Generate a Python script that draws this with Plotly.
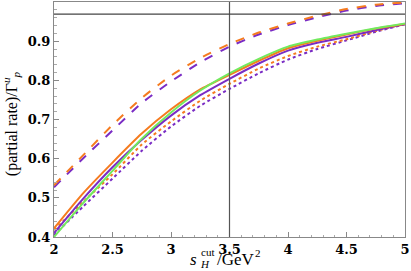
import plotly.graph_objects as go

x_vals = [2.0, 2.25, 2.5, 2.75, 3.0, 3.25, 3.5, 3.75, 4.0, 4.25, 4.5, 4.75, 5.0]

dashed_orange = [0.532, 0.609, 0.686, 0.755, 0.812, 0.857, 0.893, 0.922, 0.945, 0.965, 0.982, 0.993, 0.999]
dashed_purple = [0.527, 0.601, 0.672, 0.742, 0.797, 0.846, 0.886, 0.917, 0.941, 0.961, 0.978, 0.990, 0.997]
solid_orange = [0.422, 0.512, 0.590, 0.664, 0.726, 0.777, 0.814, 0.850, 0.882, 0.901, 0.917, 0.932, 0.944]
solid_purple = [0.410, 0.498, 0.578, 0.648, 0.710, 0.762, 0.804, 0.843, 0.876, 0.896, 0.911, 0.928, 0.943]
solid_green = [0.400, 0.487, 0.569, 0.651, 0.718, 0.774, 0.818, 0.855, 0.886, 0.904, 0.919, 0.933, 0.945]
dotted_orange = [0.418, 0.490, 0.560, 0.636, 0.695, 0.748, 0.791, 0.830, 0.862, 0.886, 0.905, 0.926, 0.944]
dotted_purple = [0.405, 0.478, 0.549, 0.620, 0.682, 0.735, 0.778, 0.818, 0.853, 0.880, 0.902, 0.924, 0.943]

x_ticks = [2, 2.5, 3, 3.5, 4, 4.5, 5]
x_tick_labels = ["2", "2.5", "3", "3.5", "4", "4.5", "5"]
y_ticks = [0.4, 0.5, 0.6, 0.7, 0.8, 0.9]
y_tick_labels = ["0.4", "0.5", "0.6", "0.7", "0.8", "0.9"]

vline_x = 3.5
hline_y = 0.969

ORANGE = "#f57b1f"
PURPLE = "#7a2cc4"
GREEN = "#72ea5e"

fig = go.Figure()

def add(y, color, dash):
    fig.add_trace(go.Scatter(x=x_vals, y=y, mode="lines",
                             line=dict(color=color, width=2, dash=dash, shape="spline", smoothing=0.6),
                             showlegend=False, hoverinfo="skip"))

add(dotted_purple, PURPLE, "dot")
add(dotted_orange, ORANGE, "dot")
add(dashed_purple, PURPLE, "dash")
add(dashed_orange, ORANGE, "dash")
add(solid_purple, PURPLE, "solid")
add(solid_orange, ORANGE, "solid")
add(solid_green, GREEN, "solid")

fig.add_shape(type="line", xref="x", yref="paper", x0=vline_x, x1=vline_x, y0=0, y1=1,
              line=dict(color="#555555", width=1.2))
fig.add_shape(type="line", xref="paper", yref="y", x0=0, x1=1, y0=hline_y, y1=hline_y,
              line=dict(color="#444444", width=1.2))

tickfont = dict(family="DejaVu Serif", size=13, color="black", weight="bold")

fig.update_xaxes(range=[2, 5], tickvals=x_ticks, ticktext=x_tick_labels,
                 ticks="inside", ticklen=5, ticklabeloverflow="allow",
                 tickcolor="#888888", showline=True, linecolor="#888888", linewidth=1, mirror=True,
                 showgrid=False, zeroline=False, tickfont=tickfont,
                 minor=dict(dtick=0.1, ticks="inside", ticklen=2.5, tickcolor="#aaaaaa"))
fig.update_yaxes(range=[0.4, 1.0], tickvals=y_ticks, ticktext=y_tick_labels,
                 ticks="inside", ticklen=5, ticklabeloverflow="allow",
                 tickcolor="#888888", showline=True, linecolor="#888888", linewidth=1, mirror=True,
                 showgrid=False, zeroline=False, tickfont=tickfont,
                 minor=dict(dtick=0.02, ticks="inside", ticklen=2.5, tickcolor="#aaaaaa"))

# x-axis title built from pieces so that sub/superscript stack like the reference
tfont = dict(family="Liberation Serif", size=17, color="black")
sfont = dict(family="Liberation Serif", size=11, color="black")
base = dict(xref="paper", yref="paper", x=0.5, y=0, showarrow=False, yanchor="middle")
fig.add_annotation(**base, xanchor="right", xshift=-31, yshift=-22, text="<i>s</i>", font=tfont)
fig.add_annotation(**base, xanchor="left", xshift=-32, yshift=-27, text="<i>H</i>", font=sfont)
fig.add_annotation(**base, xanchor="left", xshift=-31, yshift=-15, text="cut", font=sfont)
fig.add_annotation(**base, xanchor="left", xshift=-15, yshift=-22, text="/GeV", font=tfont)
fig.add_annotation(**base, xanchor="left", xshift=23, yshift=-16, text="2", font=sfont)

fig.add_annotation(xref="paper", yref="paper", x=0, xshift=-43, y=0.48, xanchor="center", yanchor="middle",
                   textangle=-90, text="(partial rate)/Γ<sup><i>u</i></sup><sub><i>p</i></sub>", showarrow=False,
                   font=dict(family="Liberation Serif", size=16, color="black"))

fig.update_layout(width=411, height=271, margin=dict(l=54, r=3, t=1, b=34),
                  plot_bgcolor="white", paper_bgcolor="white")

fig.write_html("out.html", config={"displayModeBar": False},
               post_script="document.body.style.margin='0';")
